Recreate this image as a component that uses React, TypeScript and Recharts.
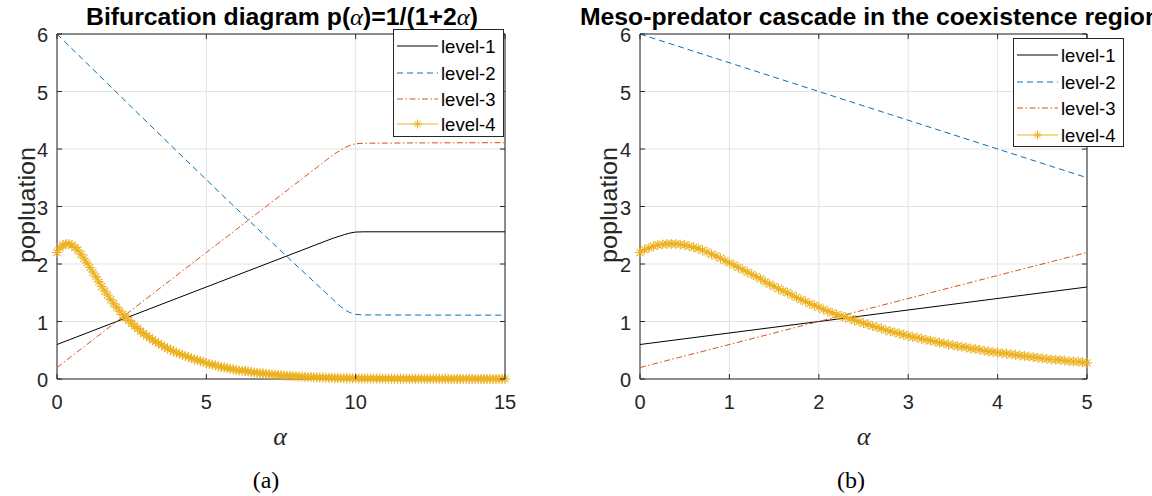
import { LineChart, Line, XAxis, YAxis, CartesianGrid, ReferenceArea, Legend } from 'recharts'

// panel (a): alpha from 0 to 15
const alphaA = [0, 9, 9.25, 9.5, 9.75, 10, 10.25, 15]
const level1A = [0.6, 2.4, 2.45, 2.49, 2.53, 2.555, 2.56, 2.56]
const level2A = [6, 1.5, 1.38, 1.26, 1.17, 1.125, 1.115, 1.11]
const level3A = [0.2, 3.8, 3.9, 3.98, 4.05, 4.09, 4.1, 4.11]
// level-4 sampled every 0.1
const level4A = [
  2.2, 2.28, 2.33, 2.35, 2.35, 2.33, 2.29, 2.24, 2.17, 2.1,
  2.02, 1.94, 1.86, 1.78, 1.69, 1.61, 1.53, 1.46, 1.38, 1.31,
  1.25, 1.18, 1.12, 1.07, 1.02, 0.97, 0.92, 0.88, 0.83, 0.79,
  0.75, 0.72, 0.68, 0.65, 0.62, 0.59, 0.56, 0.53, 0.51, 0.48,
  0.46, 0.44, 0.42, 0.4, 0.38, 0.36, 0.34, 0.33, 0.31, 0.3,
  0.28, 0.26, 0.25, 0.24, 0.22, 0.21, 0.2, 0.19, 0.18, 0.17,
  0.16, 0.15, 0.145, 0.14, 0.13, 0.12, 0.115, 0.11, 0.1, 0.095,
  0.09, 0.085, 0.08, 0.075, 0.07, 0.066, 0.062, 0.058, 0.054, 0.05,
  0.047, 0.044, 0.041, 0.038, 0.036, 0.033, 0.031, 0.029, 0.027, 0.025,
  0.023, 0.021, 0.02, 0.018, 0.017, 0.016, 0.015, 0.014, 0.013, 0.012,
  0.011, 0.01, 0.01, 0.009, 0.009, 0.008, 0.008, 0.007, 0.007, 0.007,
  0.006, 0.006, 0.006, 0.006, 0.005, 0.005, 0.005, 0.005, 0.005, 0.004,
  0.004, 0.004, 0.004, 0.004, 0.003, 0.003, 0.003, 0.003, 0.003, 0.003,
  0.003, 0.003, 0.002, 0.002, 0.002, 0.002, 0.002, 0.002, 0.002, 0.002,
  0.002, 0.002, 0.002, 0.002, 0.001, 0.001, 0.001, 0.001, 0.001, 0.001,
  0.001,
]

// panel (b): alpha from 0 to 5
const alphaB = [0, 5]
const level1B = [0.6, 1.6]
const level2B = [6, 3.5]
const level3B = [0.2, 2.2]
// level-4 sampled every 0.05
const level4B = [
  2.2, 2.25, 2.28, 2.31, 2.33, 2.34, 2.35, 2.35, 2.35, 2.34,
  2.33, 2.31, 2.29, 2.27, 2.24, 2.21, 2.17, 2.14, 2.1, 2.06,
  2.02, 1.98, 1.94, 1.9, 1.86, 1.82, 1.78, 1.74, 1.69, 1.65,
  1.61, 1.57, 1.53, 1.5, 1.46, 1.42, 1.38, 1.35, 1.31, 1.28,
  1.25, 1.21, 1.18, 1.15, 1.12, 1.1, 1.07, 1.05, 1.02, 1.0,
  0.97, 0.95, 0.92, 0.9, 0.88, 0.85, 0.83, 0.81, 0.79, 0.77,
  0.75, 0.73, 0.72, 0.7, 0.68, 0.67, 0.65, 0.63, 0.62, 0.6,
  0.59, 0.57, 0.56, 0.55, 0.53, 0.52, 0.51, 0.49, 0.48, 0.47,
  0.46, 0.45, 0.44, 0.43, 0.42, 0.41, 0.4, 0.39, 0.38, 0.37,
  0.36, 0.35, 0.34, 0.335, 0.33, 0.32, 0.31, 0.305, 0.3, 0.29,
  0.28,
]

const yTicks = [0, 1, 2, 3, 4, 5, 6]
const xTicksA = [0, 5, 10, 15]
const xTicksB = [0, 1, 2, 3, 4, 5]
const seriesNames = ['level-1', 'level-2', 'level-3', 'level-4']

const COLORS = ['#000000', '#0072BD', '#D95319', '#EDB120']
const DASHES = [undefined, '6 4', '6 2.5 1.5 2.5', undefined]
const AXIS = '#262626'
const GRID = '#e3e3e3'
const SANS = "'Liberation Sans', Arial, Helvetica, sans-serif"
const SERIF = "'Liberation Serif', 'Times New Roman', serif"

const W = 576
const H = 496
const Y_W = 40
const X_H = 30

const rowsA = alphaA.map((a, i) => ({ alpha: a, l1: level1A[i], l2: level2A[i], l3: level3A[i] }))
const starsA = level4A.map((v, i) => ({ alpha: i / 10, l4: v }))
const rowsB = alphaB.map((a, i) => ({ alpha: a, l1: level1B[i], l2: level2B[i], l3: level3B[i] }))
const starsB = level4B.map((v, i) => ({ alpha: i / 20, l4: v }))

function starPath(cx: number, cy: number, r: number) {
  const d = r * 0.7071
  return `M${cx - r},${cy}H${cx + r}M${cx},${cy - r}V${cy + r}M${cx - d},${cy - d}L${cx + d},${cy + d}M${cx - d},${cy + d}L${cx + d},${cy - d}`
}

const StarDot = (props: any) => {
  const { cx, cy, index } = props
  if (cx == null || cy == null) return <g key={index} />
  return <path key={index} d={starPath(cx, cy, 5)} stroke={COLORS[3]} strokeWidth={1.1} fill="none" />
}

interface Plot { left: number; right: number; top: number; bottom: number }
interface Box { left: number; top: number; w: number; h: number; rows: number[] }

function LegendBox({ box }: { box: Box }) {
  return (
    <div style={{ width: box.w, height: box.h, boxSizing: 'border-box', border: `1px solid ${AXIS}`, background: '#fff' }}>
      <svg width={box.w - 2} height={box.h - 2} style={{ display: 'block' }}>
        {seriesNames.map((name, i) => {
          const y = box.rows[i] - 1
          return (
            <g key={name}>
              <line x1={3} x2={44} y1={y} y2={y} stroke={COLORS[i]} strokeWidth={1} strokeDasharray={DASHES[i]} />
              {i === 3 && <path d={starPath(23.5, y, 4.5)} stroke={COLORS[3]} strokeWidth={1} fill="none" />}
              <text x={47} y={y + 6.5} fontSize={18.5} fontFamily={SANS} fill="#000">{name}</text>
            </g>
          )
        })}
      </svg>
    </div>
  )
}

function Panel({ rows, stars, xMax, xTicks, plot, box }: {
  rows: any[]; stars: any[]; xMax: number; xTicks: number[]; plot: Plot; box: Box
}) {
  const yTick = (p: any) => (
    <g>
      <line x1={plot.left} x2={plot.left + 5} y1={p.y} y2={p.y} stroke={AXIS} />
      <line x1={plot.right - 5} x2={plot.right} y1={p.y} y2={p.y} stroke={AXIS} />
      <text x={plot.left - 9} y={p.y + 8} textAnchor="end" fontSize={20} fontFamily={SANS} fill={AXIS}>
        {p.payload.value}
      </text>
    </g>
  )
  const xTick = (p: any) => (
    <g>
      <line x1={p.x} x2={p.x} y1={plot.bottom} y2={plot.bottom - 5} stroke={AXIS} />
      <line x1={p.x} x2={p.x} y1={plot.top} y2={plot.top + 5} stroke={AXIS} />
      <text x={p.x} y={plot.bottom + 30} textAnchor="middle" fontSize={20} fontFamily={SANS} fill={AXIS}>
        {p.payload.value}
      </text>
    </g>
  )
  return (
    <LineChart
      width={W}
      height={H}
      margin={{ top: plot.top, right: W - plot.right, bottom: H - plot.bottom - X_H, left: plot.left - Y_W }}
    >
      <CartesianGrid stroke={GRID} strokeWidth={1} />
      <XAxis
        type="number"
        dataKey="alpha"
        domain={[0, xMax]}
        ticks={xTicks}
        height={X_H}
        axisLine={false}
        tickLine={false}
        tick={xTick}
        interval={0}
        allowDecimals={false}
      />
      <YAxis
        type="number"
        domain={[0, 6]}
        ticks={yTicks}
        width={Y_W}
        axisLine={false}
        tickLine={false}
        tick={yTick}
        interval={0}
      />
      <ReferenceArea x1={0} x2={xMax} y1={0} y2={6} fill="none" stroke={AXIS} strokeWidth={1} />
      <Line data={rows} dataKey="l1" type="monotoneX" stroke={COLORS[0]} strokeWidth={1} dot={false} isAnimationActive={false} />
      <Line data={rows} dataKey="l2" type="monotoneX" stroke={COLORS[1]} strokeWidth={1} strokeDasharray={DASHES[1]} dot={false} isAnimationActive={false} />
      <Line data={rows} dataKey="l3" type="monotoneX" stroke={COLORS[2]} strokeWidth={1} strokeDasharray={DASHES[2]} dot={false} isAnimationActive={false} />
      <Line data={stars} dataKey="l4" type="linear" stroke={COLORS[3]} strokeWidth={1} dot={StarDot} isAnimationActive={false} />
      <Legend
        layout="vertical"
        align="center"
        verticalAlign="middle"
        wrapperStyle={{ left: box.left, top: box.top, width: box.w, height: box.h }}
        content={() => <LegendBox box={box} />}
      />
    </LineChart>
  )
}

const plotA: Plot = { left: 57, right: 505, top: 34, bottom: 379 }
const plotB: Plot = { left: 64, right: 511, top: 34, bottom: 379 }
const boxA: Box = { left: 393, top: 29, w: 111, h: 108, rows: [17, 44, 70, 95] }
const boxB: Box = { left: 437, top: 38, w: 111, h: 109, rows: [17, 44, 70, 97] }

export default function App() {
  return (
    <div style={{ position: 'absolute', left: 0, top: 0, width: 1152, height: 496, overflow: 'hidden', background: '#fff' }}>
      <div style={{ position: 'absolute', left: 0, top: 0 }}>
        <Panel rows={rowsA} stars={starsA} xMax={15} xTicks={xTicksA} plot={plotA} box={boxA} />
      </div>
      <div style={{ position: 'absolute', left: 576, top: 0 }}>
        <Panel rows={rowsB} stars={starsB} xMax={5} xTicks={xTicksB} plot={plotB} box={boxB} />
      </div>
      <svg width={1152} height={496} style={{ position: 'absolute', left: 0, top: 0, pointerEvents: 'none' }}>
        <text x={86} y={25} textLength={392} lengthAdjust="spacingAndGlyphs" fontSize={23.5} fontWeight="bold" fontFamily={SANS} fill="#000">
          Bifurcation diagram p(
          <tspan fontFamily={SERIF} fontStyle="italic" fontWeight="normal">α</tspan>
          )=1/(1+2
          <tspan fontFamily={SERIF} fontStyle="italic" fontWeight="normal">α</tspan>
          )
        </text>
        <text x={580} y={25} textLength={580} lengthAdjust="spacingAndGlyphs" fontSize={23.5} fontWeight="bold" fontFamily={SANS} fill="#000">
          Meso-predator cascade in the coexistence region
        </text>
        <text transform="translate(35,205) rotate(-90)" x={-58} textLength={116} lengthAdjust="spacingAndGlyphs" fontSize={24} fontFamily={SANS} fill={AXIS}>
          popluation
        </text>
        <text transform="translate(617,205) rotate(-90)" x={-58} textLength={116} lengthAdjust="spacingAndGlyphs" fontSize={24} fontFamily={SANS} fill={AXIS}>
          popluation
        </text>
        <text x={280} y={445} textAnchor="middle" fontSize={26} fontStyle="italic" fontFamily={SERIF} fill={AXIS}>α</text>
        <text x={863.5} y={445} textAnchor="middle" fontSize={26} fontStyle="italic" fontFamily={SERIF} fill={AXIS}>α</text>
        <text x={266} y={488} textAnchor="middle" fontSize={24} fontFamily={SERIF} fill="#000">(a)</text>
        <text x={851} y={488} textAnchor="middle" fontSize={24} fontFamily={SERIF} fill="#000">(b)</text>
      </svg>
    </div>
  )
}
